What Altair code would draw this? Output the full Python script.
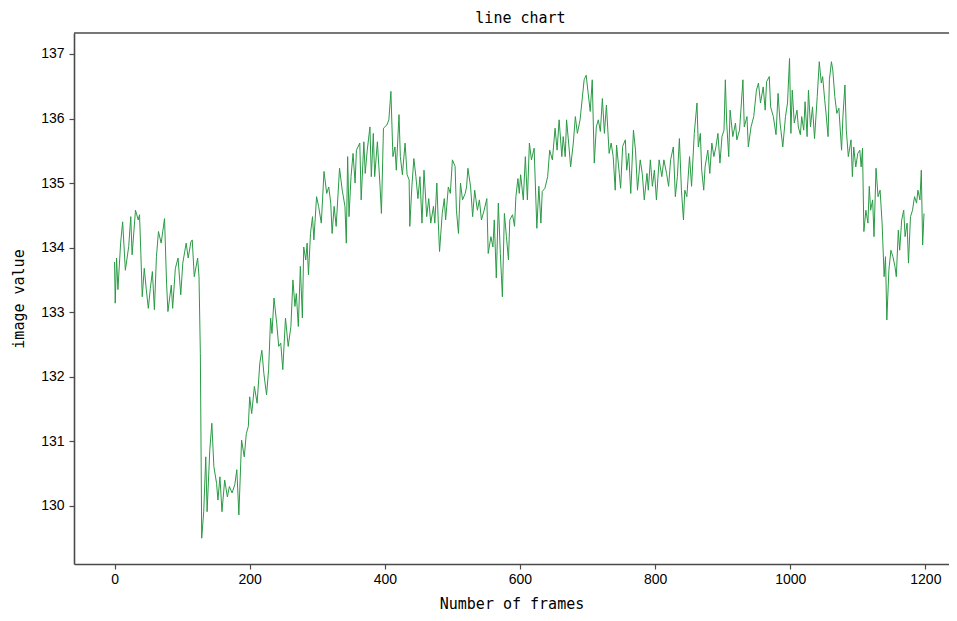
import altair as alt
import pandas as pd

frames = [0, 1, 3, 5, 9, 12, 16, 21, 24, 26, 31, 35, 37, 39, 41, 44, 47, 50, 53, 56, 59, 62, 65, 69, 74, 77, 79, 84, 86, 90,
          94, 98, 101, 106, 109, 113, 115, 118, 123, 125, 127, 129, 132, 135, 137, 141, 144, 147, 151, 153, 156, 159, 163, 167, 170, 174, 178, 181, 184, 188,
          192, 195, 198,
          200, 203, 207, 211, 215, 218, 221, 225, 228, 231, 233, 236, 240, 243, 246, 249, 253, 257, 261, 264, 267, 269, 272, 275, 278, 280, 283, 285, 287,
          290, 293, 295, 299, 302, 306, 310, 314, 317, 320, 322, 325, 328, 333, 337, 341, 343, 345, 347, 350, 353, 356, 358, 363, 365, 369, 371, 374, 378,
          380, 383, 385, 389, 393, 395, 398,
          403, 406, 409, 412, 415, 417, 421, 423, 426, 430, 433, 436, 437, 440, 443, 446, 449, 452, 455, 458, 462, 465, 468, 472, 474, 477, 479, 481, 485,
          488, 490, 494, 497, 500, 504, 506, 509, 512, 515, 519, 521, 523, 527, 530, 533, 537, 540, 543, 547, 551, 553, 557, 560, 562, 565, 568, 571, 574,
          577, 580, 583, 585, 589, 592, 594, 597,
          599, 601, 605, 608, 611, 614, 617, 621, 625, 628, 631, 633, 637, 641, 644, 648, 652, 655, 658, 662, 664, 667, 669, 673, 675, 679, 682, 685, 689,
          692, 695, 698, 701, 704, 707, 710, 713, 716, 719, 722, 725, 728, 732, 735, 738, 741, 743, 747, 749, 752, 756, 758, 761, 764, 768, 771, 774, 778,
          781, 784, 788, 790, 793, 796, 799,
          802, 806, 810, 813, 817, 820, 823, 827, 830, 833, 836, 839, 842, 844, 847, 851, 854, 858, 862, 864, 867, 869, 872, 874, 878, 881, 884, 887, 890,
          893, 896, 899, 902, 904, 906, 909, 911, 915, 919, 921, 925, 927, 930, 932, 936, 938, 942, 946, 950, 953, 956, 960, 963, 965, 969, 971, 975, 979,
          982, 985, 989, 993, 996,
          999, 1001, 1003, 1006, 1010, 1012, 1015, 1017, 1020, 1022, 1025, 1027, 1030, 1033, 1036, 1040, 1043, 1046, 1048, 1051, 1053, 1056, 1058, 1061,
          1063, 1066, 1069, 1072, 1076, 1078, 1081, 1083, 1086, 1090, 1092, 1094, 1097, 1100, 1103, 1105, 1107, 1109, 1112, 1115, 1117, 1119, 1122, 1124,
          1127, 1130, 1133, 1136, 1139, 1141, 1143, 1146, 1149, 1152, 1155, 1157, 1160, 1162, 1165, 1168, 1170, 1173, 1175, 1178, 1181, 1184, 1187, 1189,
          1192, 1194, 1196, 1198]

values = [133.78, 133.14, 133.84, 133.35, 134.07, 134.40, 133.65, 134.02, 134.48, 133.89, 134.58, 134.43, 134.51, 133.89, 133.24, 133.68, 133.35,
          133.06, 133.37, 133.63, 133.04, 133.86, 134.25, 134.07, 134.45, 133.45, 133.01, 133.42, 133.06, 133.68,
          133.84, 133.27, 133.76, 134.07, 133.84, 134.09, 134.12, 133.55, 133.84, 133.55, 132.36, 129.50, 129.91, 130.76, 129.91, 130.87, 131.28, 130.61,
          130.35, 130.09, 130.45, 129.91, 130.40, 130.14, 130.30, 130.20, 130.33, 130.56, 129.86, 131.02,
          130.76, 131.12, 131.23,
          131.69, 131.43, 131.85, 131.59, 132.21, 132.41, 132.05, 131.72, 132.11, 132.91, 132.67, 133.22, 132.83, 132.47, 132.52, 132.11, 132.91, 132.47,
          132.78, 133.50, 133.09, 133.29, 132.78, 133.71, 132.91, 134.01, 133.81, 134.07, 133.58,
          134.22, 134.48, 134.12, 134.79, 134.64, 134.38, 135.18, 134.84, 134.94, 134.69, 134.22, 134.64, 134.33, 135.23, 134.89, 134.64, 134.07, 135.41,
          134.48, 135.10, 135.46, 135.00, 135.51, 135.62, 134.74, 135.64, 135.15, 135.51, 135.87,
          135.10, 135.77, 135.10, 135.64, 134.94, 134.53, 135.85,
          135.90, 135.98, 136.42, 135.41, 135.56, 135.20, 136.06, 135.41, 135.13, 135.62, 135.13, 135.05, 134.33, 134.94, 135.38, 135.10, 134.76, 135.10,
          134.38, 135.20, 134.48, 134.76, 134.38, 134.64, 134.38, 135.00, 134.43, 133.94, 134.53,
          134.76, 134.43, 134.94, 134.84, 135.36, 135.26, 134.58, 134.22, 135.00, 134.74, 134.84, 134.94, 135.23, 134.94, 134.48, 134.89, 134.58, 134.74,
          134.43, 134.58, 134.76, 133.91, 134.17, 134.01, 134.43, 133.53, 134.69, 133.91, 133.24,
          134.53, 134.17, 133.81, 134.43, 134.51, 134.33, 134.79, 135.07,
          134.84, 135.13, 134.74, 135.41, 134.74, 135.62, 135.36, 135.54, 134.30, 134.95, 134.38, 134.87, 134.92, 135.10, 135.51, 135.36, 135.85, 135.51,
          135.98, 135.41, 135.72, 135.41, 135.98, 135.51, 135.25, 135.62, 136.03, 135.77, 135.98,
          136.29, 136.60, 136.67, 136.39, 136.11, 136.60, 135.31, 135.87, 135.98, 135.80, 136.31, 135.77, 136.21, 135.46, 135.62, 135.41, 134.89, 135.59,
          135.15, 134.92, 135.57, 135.67, 135.20, 135.46, 134.84, 135.82, 135.51, 134.89, 135.36,
          135.15, 134.74, 135.15, 134.89, 135.36, 134.95, 135.20,
          134.74, 135.36, 135.10, 135.36, 135.15, 134.95, 135.36, 135.56, 134.79, 135.10, 135.69, 134.89, 134.43, 134.89, 134.79, 135.41, 134.95, 135.77,
          136.24, 135.56, 135.77, 135.20, 134.89, 135.25, 135.51, 135.15, 135.62, 135.41, 135.56,
          135.77, 135.31, 135.72, 135.82, 136.60, 135.93, 135.41, 136.13, 135.72, 135.93, 135.67, 135.82, 136.13, 136.60, 135.87, 136.03, 135.56, 135.87,
          136.03, 136.44, 136.55, 136.24, 136.49, 136.13, 136.57, 136.65, 136.18, 136.03, 135.75,
          136.39, 135.93, 135.56, 136.03, 136.24,
          136.93, 135.77, 136.44, 135.93, 136.13, 135.87, 135.75, 136.03, 135.82, 136.26, 135.72, 136.44, 135.87, 136.18, 135.69, 136.34, 136.88, 136.55,
          136.65, 136.29, 136.08, 135.72, 136.60, 136.88,
          136.75, 136.34, 136.08, 136.16, 135.51, 136.03, 136.52, 135.82, 135.41, 135.67, 135.10, 135.56, 135.25, 135.46, 135.51, 135.25, 135.54, 134.25,
          134.58, 134.38, 134.95, 134.58, 134.74, 134.17,
          135.23, 134.79, 134.89, 134.38, 133.55, 133.86, 132.88, 133.65, 133.96, 133.86, 133.71, 133.55, 134.27, 133.96, 134.43, 134.58, 134.17, 134.38,
          133.76, 134.48, 134.58, 134.79, 134.69, 134.89,
          134.74, 135.20, 134.04, 134.53]

x_ticks = [0, 200, 400, 600, 800, 1000, 1200]
y_ticks = [130, 131, 132, 133, 134, 135, 136, 137]

FONT = "DejaVu Sans Mono"
LABEL_FONT = "Liberation Sans"
AXIS_COLOR = "#4a4a4a"
W, H = 875, 531

df = pd.DataFrame({"frame": frames, "value": values})

line = alt.Chart(df).mark_line(color="#2a9a45", strokeWidth=1, clip=True).encode(
    x=alt.X("frame:Q",
            scale=alt.Scale(domain=[-60, 1235], nice=False, zero=False),
            axis=alt.Axis(values=x_ticks, format="d", title="Number of frames", grid=False,
                          labelFont=LABEL_FONT, labelFontSize=14, labelColor="#000",
                          titleFont=FONT, titleFontSize=15, titleFontWeight="normal", titleColor="#000",
                          domainColor=AXIS_COLOR, domainWidth=1.6, tickColor=AXIS_COLOR, tickWidth=1.2,
                          tickSize=5, labelPadding=3, titlePadding=10, labelFlush=False)),
    y=alt.Y("value:Q",
            scale=alt.Scale(domain=[129.10, 137.325], nice=False, zero=False),
            axis=alt.Axis(values=y_ticks, format="d", title="image value", grid=False,
                          labelFont=LABEL_FONT, labelFontSize=14, labelColor="#000",
                          titleFont=FONT, titleFontSize=15, titleFontWeight="normal", titleColor="#000",
                          domainColor=AXIS_COLOR, domainWidth=1.6, tickColor=AXIS_COLOR, tickWidth=1.2,
                          tickSize=5, labelPadding=5, titlePadding=14, labelFlush=False)),
)

top_border = alt.Chart(pd.DataFrame({"a": [0]})).mark_rule(color=AXIS_COLOR, strokeWidth=1.6).encode(
    x=alt.value(0), x2=alt.value(W + 20), y=alt.value(0)
)

chart = alt.layer(line, top_border).properties(
    width=W, height=H,
    title=alt.TitleParams("line chart", font=FONT, fontSize=15, fontWeight="normal", color="#000",
                          anchor="middle", dx=9, offset=6),
    autosize=alt.AutoSizeParams(type="none"),
    padding={"left": 66, "top": 25, "right": 0, "bottom": 49},
).configure_view(stroke=None)

chart.save("out.html", embed_options={"renderer": "svg", "actions": False})
